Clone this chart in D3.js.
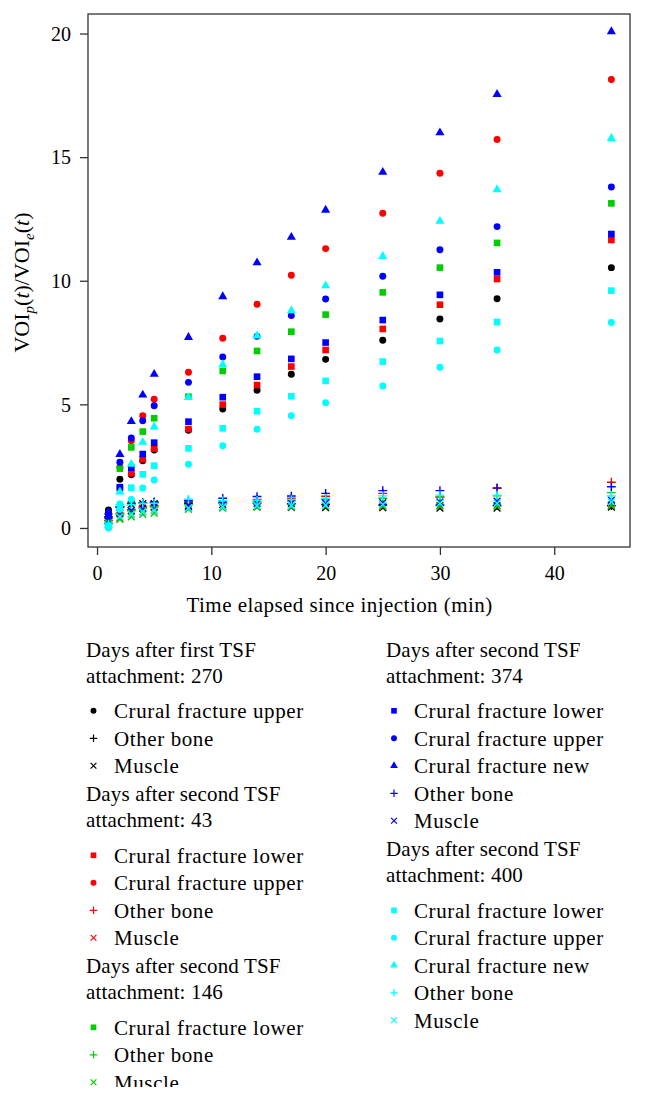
<!DOCTYPE html>
<html>
<head>
<meta charset="utf-8">
<script src="https://cdn.jsdelivr.net/npm/d3@7"></script>
<style>
  body { margin: 0; background: #fff; }
  svg text { font-family: "Liberation Serif", "Times New Roman", serif; fill: #000; }
</style>
</head>
<body>
<svg id="chart" width="645" height="1101"></svg>
<script>
// time points (min)
var times = [1, 2, 3, 4, 5, 8, 11, 14, 17, 20, 25, 30, 35, 45];
var xTicks = [0, 10, 20, 30, 40];
var yTicks = [0, 5, 10, 15, 20];

// days after first TSF attachment: 270
var d270Upper  = [0.73, 1.97, 2.15, 2.72, 3.15, 3.95, 4.81, 5.57, 6.22, 6.82, 7.59, 8.45, 9.27, 10.53];
var d270Bone   = [0.45, 0.85, 1.00, 1.02, 1.03, 1.00, 1.02, 1.00, 0.98, 0.95, 0.93, 0.92, 0.90, 0.90];
var d270Muscle = [0.35, 0.70, 0.95, 0.98, 0.98, 0.85, 0.85, 0.85, 0.83, 0.82, 0.82, 0.80, 0.80, 0.84];

// days after second TSF attachment: 43
var d43Lower  = [0.50, 1.60, 2.21, 2.78, 3.21, 4.00, 4.99, 5.78, 6.53, 7.20, 8.05, 9.03, 10.07, 11.65];
var d43Upper  = [0.60, 2.46, 3.53, 4.54, 5.21, 6.30, 7.67, 9.05, 10.22, 11.30, 12.73, 14.35, 15.71, 18.14];
var d43Bone   = [0.30, 0.60, 0.75, 0.85, 0.90, 1.05, 1.10, 1.15, 1.20, 1.28, 1.40, 1.25, 1.60, 1.85];
var d43Muscle = [0.20, 0.40, 0.55, 0.65, 0.70, 0.80, 0.85, 0.87, 0.88, 0.90, 0.88, 0.90, 0.90, 0.92];

// days after second TSF attachment: 146
var d146Lower  = [0.40, 2.40, 3.26, 3.90, 4.44, 5.31, 6.35, 7.16, 7.94, 8.63, 9.53, 10.53, 11.53, 13.13];
var d146Bone   = [0.20, 0.55, 0.70, 0.80, 0.85, 0.95, 1.00, 1.05, 1.10, 1.15, 1.20, 1.25, 1.30, 1.43];
var d146Muscle = [0.15, 0.35, 0.45, 0.55, 0.60, 0.75, 0.80, 0.85, 0.85, 0.88, 0.88, 0.88, 0.88, 0.90];

// days after second TSF attachment: 374
var d374Lower  = [0.55, 1.65, 2.44, 2.99, 3.45, 4.30, 5.29, 6.12, 6.84, 7.50, 8.41, 9.43, 10.34, 11.89];
var d374Upper  = [0.60, 2.66, 3.64, 4.34, 4.94, 5.89, 6.92, 7.75, 8.59, 9.26, 10.18, 11.25, 12.19, 13.79];
var d374New    = [0.65, 2.98, 4.31, 5.38, 6.22, 7.71, 9.36, 10.73, 11.76, 12.86, 14.39, 15.99, 17.54, 20.08];
var d374Bone   = [0.40, 0.85, 0.95, 1.00, 1.05, 1.10, 1.20, 1.27, 1.29, 1.40, 1.51, 1.51, 1.62, 1.67];
var d374Muscle = [0.30, 0.60, 0.70, 0.80, 0.85, 0.90, 0.95, 1.00, 1.00, 1.00, 1.02, 1.05, 1.08, 1.13];

// days after second TSF attachment: 400
var d400Lower  = [0.05, 0.95, 1.63, 2.17, 2.52, 3.22, 4.03, 4.72, 5.33, 5.95, 6.73, 7.56, 8.33, 9.60];
var d400Upper  = [0.00, 0.75, 1.15, 1.62, 1.94, 2.58, 3.33, 3.99, 4.54, 5.07, 5.74, 6.50, 7.20, 8.31];
var d400New    = [0.10, 1.46, 2.58, 3.47, 4.09, 5.28, 6.61, 7.77, 8.79, 9.80, 10.99, 12.41, 13.69, 15.76];
var d400Bone   = [0.15, 0.95, 0.95, 1.00, 1.00, 1.16, 1.10, 1.12, 1.15, 1.20, 1.30, 1.33, 1.33, 1.30];
var d400Muscle = [0.10, 0.45, 0.55, 0.65, 0.70, 0.80, 0.85, 0.90, 0.90, 0.92, 0.95, 1.00, 1.00, 1.05];

var groupTitles = [
  ["Days after first TSF", "attachment: 270"],
  ["Days after second TSF", "attachment: 43"],
  ["Days after second TSF", "attachment: 146"],
  ["Days after second TSF", "attachment: 374"],
  ["Days after second TSF", "attachment: 400"]
];
var groupColors = ["#000000", "#ff0000", "#00cd00", "#0000ff", "#00ffff"];
var shapeLabels = {
  lower: "Crural fracture lower", upper: "Crural fracture upper",
  "new": "Crural fracture new", bone: "Other bone", muscle: "Muscle"
};

var groups = [
  [["upper", d270Upper], ["bone", d270Bone], ["muscle", d270Muscle]],
  [["lower", d43Lower], ["upper", d43Upper], ["bone", d43Bone], ["muscle", d43Muscle]],
  [["lower", d146Lower], ["bone", d146Bone], ["muscle", d146Muscle]],
  [["lower", d374Lower], ["upper", d374Upper], ["new", d374New], ["bone", d374Bone], ["muscle", d374Muscle]],
  [["lower", d400Lower], ["upper", d400Upper], ["new", d400New], ["bone", d400Bone], ["muscle", d400Muscle]]
];

var svg = d3.select("#chart");
var plot = {left: 88, right: 630, top: 14, bottom: 547};

var x = d3.scaleLinear().domain([-0.79, 46.63]).range([plot.left, plot.right]);
var y = d3.scaleLinear().domain([-0.77, 20.79]).range([plot.bottom, plot.top]);

// marker shapes, drawn around 0,0
function markerPath(kind){
  if (kind == "upper") return d3.symbol(d3.symbolCircle, 38)();
  if (kind == "lower") return d3.symbol(d3.symbolSquare, 44)();
  if (kind == "new") return d3.symbol(d3.symbolTriangle, 36)();
  if (kind == "bone") return "M-4.4,0H4.4M0,-4.4V4.4";
  return "M-3.4,-3.4L3.4,3.4M-3.4,3.4L3.4,-3.4";
}
function styleMarker(sel, kind, color){
  if (kind == "bone" || kind == "muscle")
    sel.attr("fill", "none").attr("stroke", color).attr("stroke-width", 1.4);
  else
    sel.attr("fill", color).attr("stroke", "none");
}

// points
groups.forEach(function(g, gi){
  g.forEach(function(s){
    var kind = s[0];
    svg.append("g").selectAll("path")
      .data(s[1]).enter().append("path")
      .attr("d", markerPath(kind))
      .attr("transform", function(d, i){ return "translate(" + x(times[i]) + "," + y(d) + ")"; })
      .call(styleMarker, kind, groupColors[gi]);
  });
});

// box
svg.append("rect")
  .attr("x", plot.left).attr("y", plot.top)
  .attr("width", plot.right - plot.left).attr("height", plot.bottom - plot.top)
  .attr("fill", "none").attr("stroke", "#333").attr("stroke-width", 1.3);

var xAxis = svg.append("g")
  .attr("transform", "translate(0," + plot.bottom + ")")
  .call(d3.axisBottom(x).tickValues(xTicks).tickSize(8).tickFormat(d3.format("d")));
var yAxis = svg.append("g")
  .attr("transform", "translate(" + plot.left + ",0)")
  .call(d3.axisLeft(y).tickValues(yTicks).tickSize(8).tickPadding(9).tickFormat(d3.format("d")));
[xAxis, yAxis].forEach(function(a){
  a.select(".domain").remove();
  a.selectAll("line").attr("stroke", "#333").attr("stroke-width", 1.3);
  a.selectAll("text").attr("font-size", 20).attr("font-family", null);
});
xAxis.selectAll("text").attr("y", 33).attr("dy", null);
yAxis.selectAll("text").attr("dy", "0.34em");

// axis titles
svg.append("text")
  .attr("x", (x(0) + x(40)) / 2 + 14).attr("y", 612)
  .attr("text-anchor", "middle").attr("font-size", 21).attr("letter-spacing", 0.45)
  .text("Time elapsed since injection (min)");

var yt = svg.append("text")
  .attr("transform", "translate(29," + ((plot.top + plot.bottom) / 2 + 2) + ") rotate(-90)")
  .attr("text-anchor", "middle").attr("font-size", 22);
yt.append("tspan").text("VOI");
yt.append("tspan").attr("font-style", "italic").attr("font-size", 15).attr("dy", 5).text("p");
yt.append("tspan").attr("dy", -5).text("(");
yt.append("tspan").attr("font-style", "italic").text("t");
yt.append("tspan").text(")/VOI");
yt.append("tspan").attr("font-style", "italic").attr("font-size", 15).attr("dy", 5).text("e");
yt.append("tspan").attr("dy", -5).text("(");
yt.append("tspan").attr("font-style", "italic").text("t");
yt.append("tspan").text(")");

// legend: two columns
var columns = [
  {titleX: 86, markX: 93.5, textX: 114, groups: [0, 1, 2]},
  {titleX: 386, markX: 394, textX: 414, groups: [3, 4]}
];
columns.forEach(function(col){
  var cy = 649.3;
  col.groups.forEach(function(gi, k){
    if (k > 0) cy += 28;
    groupTitles[gi].forEach(function(line, li){
      if (li > 0) cy += 26;
      svg.append("text").attr("x", col.titleX).attr("y", cy).attr("dy", "0.35em")
        .attr("font-size", 21).attr("letter-spacing", 0.15).text(line);
    });
    cy += 35.5;
    groups[gi].forEach(function(s, si){
      if (si > 0) cy += 27.5;
      svg.append("path").attr("d", markerPath(s[0]))
        .attr("transform", "translate(" + col.markX + "," + cy + ") scale(0.85)")
        .call(styleMarker, s[0], groupColors[gi]);
      svg.append("text").attr("x", col.textX).attr("y", cy).attr("dy", "0.35em")
        .attr("font-size", 21).attr("letter-spacing", 0.6).text(shapeLabels[s[0]]);
    });
  });
});

// the figure is cut off at the bottom
svg.append("rect").attr("x", 0).attr("y", 1087).attr("width", 645).attr("height", 14).attr("fill", "#fff");
</script>
</body>
</html>
